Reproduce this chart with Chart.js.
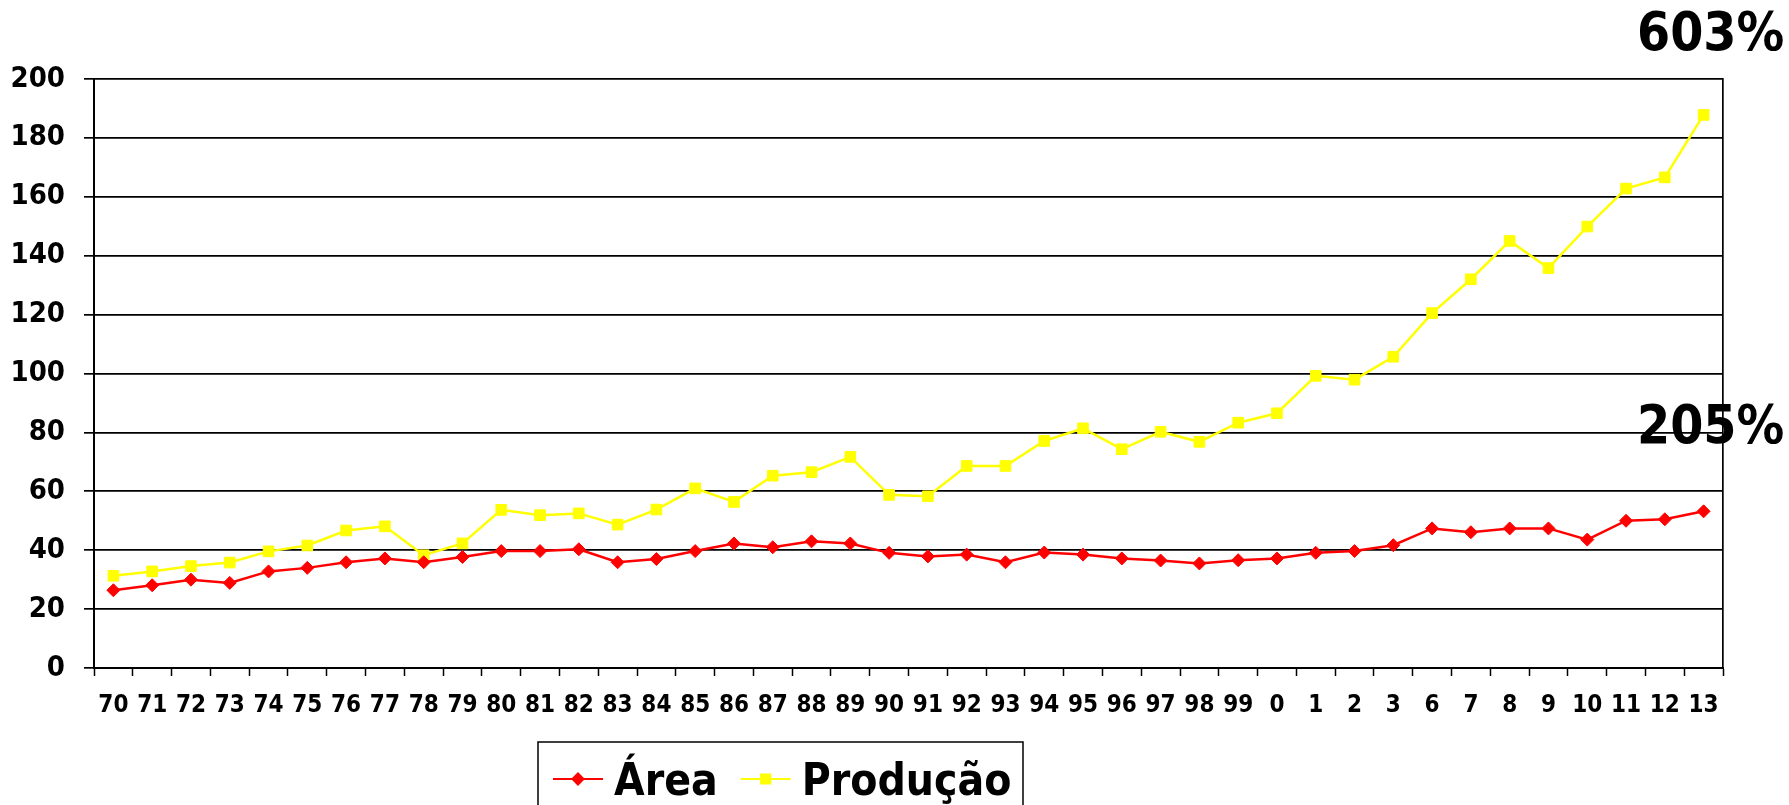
<!DOCTYPE html>
<html>
<head>
<meta charset="utf-8">
<script src="https://cdn.jsdelivr.net/npm/chart.js@4/dist/chart.umd.min.js"></script>
<style>
  html, body { margin: 0; padding: 0; background: #fff; }
  #c { display: block; }
</style>
</head>
<body>
<canvas id="c" width="1789" height="805"></canvas>
<script>
// Years (two-digit), area and production indices
const years = ['70','71','72','73','74','75','76','77','78','79',
               '80','81','82','83','84','85','86','87','88','89',
               '90','91','92','93','94','95','96','97','98','99',
               '0','1','2','3','6','7','8','9','10','11','12','13'];

const area = [26.4, 28.1, 30.0, 28.9, 32.8, 34.0, 35.9, 37.2, 35.9, 37.7,
              39.7, 39.7, 40.3, 35.9, 37.0, 39.7, 42.3, 41.0, 43.0, 42.3,
              39.1, 37.9, 38.5, 35.9, 39.2, 38.5, 37.2, 36.5, 35.5, 36.6,
              37.2, 39.1, 39.7, 41.7, 47.4, 46.1, 47.4, 47.4, 43.6, 50.0, 50.5, 53.2];

const producao = [31.3, 32.8, 34.6, 35.8, 39.6, 41.6, 46.7, 48.1, 38.3, 42.3,
                  53.7, 51.9, 52.5, 48.7, 53.8, 61.0, 56.4, 65.3, 66.5, 71.7,
                  58.8, 58.3, 68.6, 68.6, 77.1, 81.4, 74.3, 80.2, 76.8, 83.3,
                  86.5, 99.2, 97.9, 105.7, 120.5, 132.0, 145.0, 135.8, 149.9, 162.8, 166.6, 187.8];

const seriesNames = ['Área', 'Produção'];
const growthLabels = ['603%', '205%'];

const FONT = "'DejaVu Sans Condensed', 'DejaVu Sans', sans-serif";

// Growth percentages written at the right edge
const growthPlugin = {
  id: 'growth',
  afterDraw(chart) {
    const ctx = chart.ctx;
    const y = chart.scales.y;
    const x = chart.scales.x;
    const cx = x.getPixelForValue(years.length - 1) + 7;
    const levels = [214.5, 81];
    ctx.save();
    ctx.fillStyle = '#000';
    ctx.font = 'bold 53px ' + FONT;
    ctx.textAlign = 'center';
    ctx.textBaseline = 'middle';
    growthLabels.forEach((t, i) => ctx.fillText(t, cx, y.getPixelForValue(levels[i])));
    ctx.restore();
  }
};

// Boxed legend with line + marker samples
const boxLegendPlugin = {
  id: 'boxLegend',
  afterDraw(chart) {
    const ctx = chart.ctx;
    const left = 538, top = 742, right = 1023;
    const midY = 779, baseY = 795;
    ctx.save();
    ctx.strokeStyle = '#000';
    ctx.lineWidth = 1.5;
    ctx.strokeRect(left, top, right - left, 120);
    ctx.font = 'bold 44px ' + FONT;
    ctx.textBaseline = 'alphabetic';
    ctx.textAlign = 'left';
    let xPos = 553;
    chart.data.datasets.forEach((ds) => {
      ctx.strokeStyle = ds.borderColor;
      ctx.lineWidth = 2;
      ctx.beginPath();
      ctx.moveTo(xPos, midY);
      ctx.lineTo(xPos + 50, midY);
      ctx.stroke();
      ctx.fillStyle = ds.pointBackgroundColor;
      ctx.strokeStyle = ds.pointBorderColor;
      Chart.helpers.drawPoint(ctx, {
        pointStyle: ds.pointStyle,
        radius: ds.pointStyle === 'rect' ? 6.5 : 5.5,
        rotation: 0,
        borderWidth: 1
      }, xPos + 25, midY);
      ctx.fillStyle = '#000';
      const tx = xPos + 61;
      ctx.fillText(ds.label, tx, baseY);
      xPos = tx + ctx.measureText(ds.label).width + 23;
    });
    ctx.restore();
  }
};

new Chart(document.getElementById('c'), {
  type: 'line',
  data: {
    labels: years,
    datasets: [
      {
        label: seriesNames[0],
        data: area,
        borderColor: '#FF0000',
        backgroundColor: '#FF0000',
        pointBackgroundColor: '#FF0000',
        pointBorderColor: '#FF0000',
        borderWidth: 2.5,
        pointStyle: 'rectRot',
        pointRadius: 6.5,
        pointBorderWidth: 1,
        tension: 0
      },
      {
        label: seriesNames[1],
        data: producao,
        borderColor: '#FFFF00',
        backgroundColor: '#FFFF00',
        pointBackgroundColor: '#FFFF00',
        pointBorderColor: '#FFFF00',
        borderWidth: 2.5,
        pointStyle: 'rect',
        pointRadius: 7.5,
        pointBorderWidth: 1,
        tension: 0
      }
    ]
  },
  options: {
    responsive: false,
    animation: false,
    devicePixelRatio: 1,
    layout: { padding: { top: 79, right: 66, bottom: 0, left: 0 } },
    plugins: {
      legend: { display: false },
      tooltip: { enabled: false }
    },
    scales: {
      x: {
        offset: true,
        grid: {
          offset: true,
          drawOnChartArea: false,
          drawTicks: true,
          tickLength: 8,
          tickColor: '#000',
          tickWidth: 1.5
        },
        border: { display: true, color: '#000', width: 2 },
        ticks: {
          color: '#000',
          font: { family: FONT, size: 24, weight: 'bold' },
          padding: 15,
          maxRotation: 0,
          autoSkip: false
        },
        afterFit(s) { s.height = 137; }
      },
      y: {
        min: 0,
        max: 200,
        ticks: {
          stepSize: 20,
          color: '#000',
          font: { family: FONT, size: 29, weight: 'bold' },
          padding: 19
        },
        grid: {
          color: '#000',
          lineWidth: 1.7,
          tickLength: 10,
          tickColor: '#000'
        },
        border: { display: true, color: '#000', width: 2 },
        afterFit(s) { s.width = 94; }
      },
      y2: {
        position: 'right',
        min: 0,
        max: 200,
        ticks: { display: false },
        grid: { display: false, drawTicks: false },
        border: { display: true, color: '#000', width: 1.7 },
        afterFit(s) { s.width = 0; }
      }
    }
  },
  plugins: [growthPlugin, boxLegendPlugin]
});
</script>
</body>
</html>
